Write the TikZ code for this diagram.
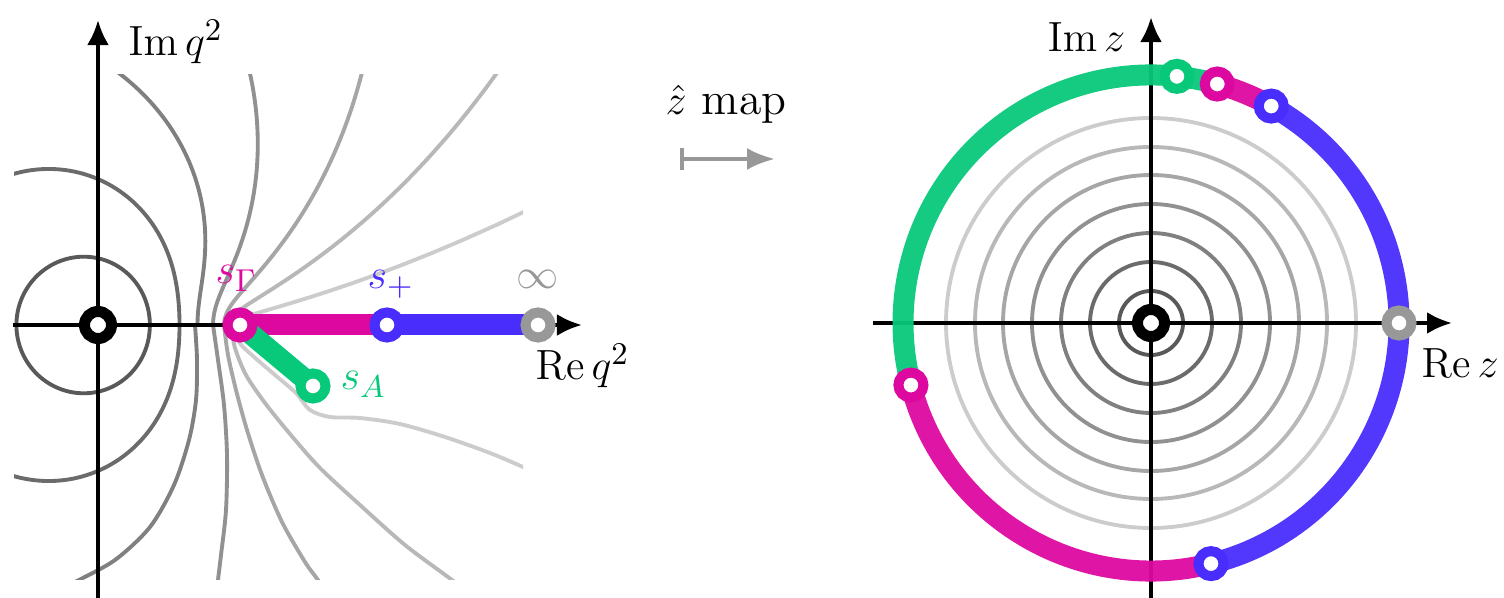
\documentclass[tikz,border=0pt]{standalone}
\usepackage{amsmath,amssymb}
\usepackage{tikz}
\usepackage{tkz-euclide}
\usetikzlibrary{arrows.meta}
\definecolor{magG}{RGB}{221,8,160}
\definecolor{bluP}{RGB}{72,45,252}
\definecolor{grnA}{RGB}{8,200,122}
\definecolor{grayI}{RGB}{152,152,152}
\tikzset{
  ring/.style={circle,draw=#1,fill=white,line width=0.1cm,minimum size=0.25cm,inner sep=0pt},
  origin/.style={ring=black,line width=0.11cm,minimum size=0.27cm},
  cutline/.style={line width=0.21cm,draw=#1},
  isoline/.style={line width=1.1pt,draw=#1},
  axisline/.style={line width=1.2pt,-{Latex[length=0.25cm,width=0.22cm]}},
  lbl/.style={inner sep=0pt},
}

\begin{document}
\begin{tikzpicture}[x=0.01cm,y=0.01cm,font=\fontsize{13}{15}\selectfont,
  declare function={
    wc(\rq)=(1+\rq*\rq)/(1-\rq*\rq);
    wr(\rq)=2*\rq/(1-\rq*\rq);
    wu(\rq,\aq)=wc(\rq)+wr(\rq)*cos(\aq);
    wv(\rq,\aq)=wr(\rq)*sin(\aq);
    qre(\rq,\aq)=1-wu(\rq,\aq)^2+wv(\rq,\aq)^2;
    qim(\rq,\aq)=-2*wu(\rq,\aq)*wv(\rq,\aq);
    qd(\rq,\aq)=sqrt((qre(\rq,\aq)-1)^2+qim(\rq,\aq)^2);
    qg(\rq,\aq,\kq)=sqrt(1+\kq/qd(\rq,\aq));
    qx(\rq,\aq,\kq)=1+(qre(\rq,\aq)-1)*qg(\rq,\aq,\kq);
    qy(\rq,\aq,\kq)=qim(\rq,\aq)*qg(\rq,\aq,\kq);
  }]
  \useasboundingbox (0,0) rectangle (1504,-598);
  % q^2 plane
  \tkzDefPoint(98,-325){O}
  \tkzDefPoint(240,-325){G}
  \tkzDefPoint(387,-325){P}
  \tkzDefPoint(538,-325){I}
  \tkzDefPoint(313,-386){A}
  \begin{scope}
    \clip (14,-75) rectangle (523,-580);
    \begin{scope}[shift={(98,-325)},x=1.42cm,y=1.42cm]
      % closed curves round the origin
      \foreach \r/\s/\col in {0.113/1/black!65,0.21/1.07/black!58}
        \draw[isoline=\col] plot[domain=0:360,samples=145,smooth,variable=\ang]
          ({qx(\r,\ang,0)},{\s*qy(\r,\ang,0)});
      % upper halves
      \foreach \r/\d/\col in {0.33/280/black!50,0.446/245/black!43,0.574/230/black!35,
                               0.70/215/black!28,0.837/200/black!20}
        \draw[isoline=\col] plot[domain=180:\d,samples=81,smooth,variable=\ang]
          ({qx(\r,\ang,0.1)},{qy(\r,\ang,0.1)});
    \end{scope}
    % lower halves, bent by the cut to s_A
    \draw[isoline=black!50] plot[smooth] coordinates {(195,-325) (197,-360) (196,-400)
      (189,-440) (174,-485) (150,-527) (115,-560) (75,-582) (55,-592)};
    \draw[isoline=black!43] plot[smooth] coordinates {(213,-325) (218,-360) (224,-405)
      (227,-455) (226,-510) (221,-555) (218,-580) (216,-600)};
    \draw[isoline=black!35] plot[smooth] coordinates {(224,-325) (228,-355) (236,-390)
      (247,-430) (262,-475) (282,-522) (305,-562) (318,-580) (330,-598)};
    \draw[isoline=black!28] plot[smooth] coordinates {(231,-325) (235,-348) (246,-375)
      (265,-403) (290,-434) (320,-468) (360,-505) (405,-545) (452,-580) (475,-598)};
    \draw[isoline=black!20] plot[smooth] coordinates {(236,-325) (239,-342) (253,-356)
      (275,-375) (296,-393) (310,-410) (330,-417) (360,-418) (400,-424) (445,-437)
      (490,-453) (523,-467) (545,-477)};
  \end{scope}
  \coordinate (xL) at (13,-325);
  \coordinate (xR) at (582,-325);
  \coordinate (yB) at (98,-598);
  \coordinate (yT) at (98,-20);
  \draw[axisline] (xL) -- (xR);
  \draw[axisline] (yB) -- (yT);
  \tkzDrawSegment[cutline=magG](G,P)
  \tkzDrawSegment[cutline=bluP](P,I)
  \tkzDrawSegment[cutline=grnA](G,A)
  \node[origin] (nO) at (O) {};
  \node[ring=magG] (nG) at (G) {};
  \node[ring=bluP] (nP) at (P) {};
  \node[ring=grayI] (nI) at (I) {};
  \node[ring=grnA] (nA) at (A) {};
  \node[lbl,anchor=base west] (lImq) at (128,-56) {$\mathrm{Im}\,q^2$};
  \node[lbl,anchor=base west] (lReq) at (535,-380) {$\mathrm{Re}\,q^2$};
  \node[lbl,anchor=base west,text=magG] (lG) at (215,-284) {$s_\Gamma$};
  \node[lbl,anchor=base west,text=bluP] (lP) at (367,-289) {$s_+$};
  \node[lbl,text=grayI] (lI) at (538,-279) {$\infty$};
  \node[lbl,anchor=base west,text=grnA] (lA) at (340,-390) {$s_A$};

  % map arrow
  \coordinate (mapL) at (680,-159);
  \coordinate (mapR) at (775,-159);
  \draw[line width=1.2pt,draw=grayI,{Bar[width=0.22cm]}-{Latex[length=0.28cm,width=0.22cm]}] (mapL) -- (mapR);
  \node[lbl,anchor=base west] (lMap) at (665,-115) {$\hat{z}$ map};

  % z plane
  \tkzDefPoint(1151,-323){Z}
  \foreach \r/\col in {32/black!65,61/black!58,90/black!50,119/black!43,148/black!35,176/black!28,205/black!20}
    \draw[isoline=\col] (Z) circle[radius=\r];
  \coordinate (uL) at (873,-323);
  \coordinate (uR) at (1452,-323);
  \coordinate (vB) at (1151,-598);
  \coordinate (vT) at (1151,-17);
  \draw[axisline] (uL) -- (uR);
  \draw[axisline] (vB) -- (vT);
  \draw[cutline=grnA,opacity=0.95] (Z) ++(74.5:248) arc[start angle=74.5,end angle=194.5,radius=248];
  \draw[cutline=magG,opacity=0.95] (Z) ++(194.5:248) arc[start angle=194.5,end angle=284,radius=248];
  \draw[cutline=bluP,opacity=0.95] (Z) ++(-76:248) arc[start angle=-76,end angle=61,radius=248];
  \draw[cutline=magG,opacity=0.95] (Z) ++(61:248) arc[start angle=61,end angle=74.5,radius=248];
  \node[origin] (zO) at (Z) {};
  \node[ring=grnA] (zA) at ([shift={(84:248)}]Z) {};
  \node[ring=magG] (zG1) at ([shift={(74.5:248)}]Z) {};
  \node[ring=magG] (zG2) at ([shift={(194.5:248)}]Z) {};
  \node[ring=bluP] (zP1) at ([shift={(61:248)}]Z) {};
  \node[ring=bluP] (zP2) at ([shift={(-76:248)}]Z) {};
  \node[ring=grayI] (zI) at ([shift={(0:248)}]Z) {};
  \node[lbl,anchor=base east] (lImz) at (1126,-52) {$\mathrm{Im}\,z$};
  \node[lbl,anchor=base west] (lRez) at (1421,-378) {$\mathrm{Re}\,z$};
\end{tikzpicture}
\end{document}
